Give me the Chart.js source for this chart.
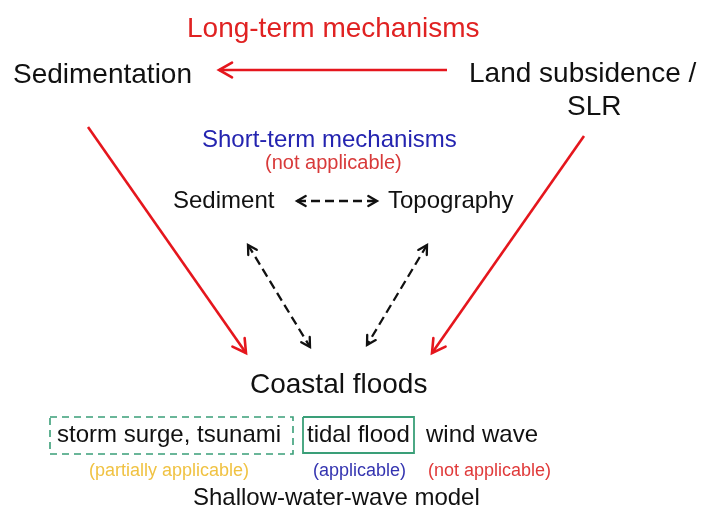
<!DOCTYPE html>
<html>
<head>
<meta charset="utf-8">
<script src="https://cdn.jsdelivr.net/npm/chart.js@4/dist/chart.umd.min.js"></script>
<style>
  html, body { margin: 0; padding: 0; background: #fff; }
  #wrap { width: 703px; height: 513px; }
</style>
</head>
<body>
<div id="wrap"><canvas id="diagram"></canvas></div>
<script>
// Diagram units: 0..703 across, 0..513 down (y axis is reversed)
const labelText = ['Long-term mechanisms', 'Sedimentation', 'Land subsidence /', 'SLR',
  'Short-term mechanisms', '(not applicable)', 'Sediment', 'Topography', 'Coastal floods',
  'storm surge, tsunami', 'tidal flood', 'wind wave',
  '(partially applicable)', '(applicable)', '(not applicable)', 'Shallow-water-wave model'];
const labelX = [187, 13, 469, 567, 202, 265, 173, 388, 250, 57, 307, 426, 89, 313, 428, 193];
const labelY = [37, 83, 82, 115, 147, 169, 208, 208, 393, 442, 442, 442, 476, 476, 476, 505];
const labelRole = ['longTitle', 'big', 'big', 'big', 'shortTitle', 'noteRed', 'mid', 'mid', 'big',
  'mid', 'mid', 'mid', 'noteYellow', 'noteBlue', 'noteRedSmall', 'mid'];

// arrows: start / end points, kind decides colour + heads
const arrowFrom = [[447, 70], [88, 127], [584, 136], [297, 201], [248, 245], [427, 245]];
const arrowTo = [[219, 70], [246, 353], [432, 353], [377, 201], [310, 347], [367, 345]];
const arrowKind = ['long', 'long', 'long', 'short', 'short', 'short'];

// boxes round the flood types: left, top, right, bottom
const boxRect = [[50, 417, 293, 454], [303, 417, 414, 453]];
const boxKind = ['dashed', 'solid'];

const RED = '#e5161d';
const GREEN = '#3a9f78';
const FONT = '"Liberation Sans", Arial, sans-serif';

const roleStyle = {
  longTitle: { size: 28, color: '#e02222' },
  big: { size: 28, color: '#111' },
  shortTitle: { size: 24, color: '#2424b0' },
  noteRed: { size: 20, color: '#d83a3a' },
  mid: { size: 24, color: '#111' },
  noteYellow: { size: 18, color: '#f0c242' },
  noteBlue: { size: 18, color: '#3434b0' },
  noteRedSmall: { size: 18, color: '#e03a3a' }
};

const kindStyle = {
  long: { color: RED, width: 2.6, dash: [], head: 15, both: false },
  short: { color: '#111', width: 2.3, dash: [9, 5], head: 10, both: true }
};

const datasets = [];
arrowFrom.forEach((p, i) => {
  const st = kindStyle[arrowKind[i]];
  datasets.push({
    label: 'arrow' + i,
    data: [{ x: p[0], y: p[1] }, { x: arrowTo[i][0], y: arrowTo[i][1] }],
    showLine: true, pointRadius: 0, fill: false, clip: false,
    borderColor: st.color, borderWidth: st.width, borderDash: st.dash
  });
});
boxRect.forEach((r, i) => {
  datasets.push({
    label: 'box' + i,
    data: [{ x: r[0], y: r[1] }, { x: r[2], y: r[1] }, { x: r[2], y: r[3] }, { x: r[0], y: r[3] }, { x: r[0], y: r[1] }],
    showLine: true, pointRadius: 0, fill: false, clip: false,
    borderColor: GREEN, borderWidth: boxKind[i] === 'dashed' ? 1.6 : 1.8,
    borderDash: boxKind[i] === 'dashed' ? [7, 5] : []
  });
});

function drawHead(ctx, tx, ty, fx, fy, len, color, width) {
  const a = Math.atan2(ty - fy, tx - fx);
  const spread = 0.52;
  ctx.save();
  ctx.strokeStyle = color;
  ctx.lineWidth = width;
  ctx.setLineDash([]);
  ctx.lineCap = 'round';
  ctx.lineJoin = 'miter';
  ctx.beginPath();
  ctx.moveTo(tx - len * Math.cos(a - spread), ty - len * Math.sin(a - spread));
  ctx.lineTo(tx, ty);
  ctx.lineTo(tx - len * Math.cos(a + spread), ty - len * Math.sin(a + spread));
  ctx.stroke();
  ctx.restore();
}

const diagramPlugin = {
  id: 'diagram',
  afterDatasetsDraw(chart) {
    const { ctx } = chart;
    const xs = chart.scales.x, ys = chart.scales.y;
    // arrow heads
    arrowFrom.forEach((p, i) => {
      const st = kindStyle[arrowKind[i]];
      const fx = xs.getPixelForValue(p[0]), fy = ys.getPixelForValue(p[1]);
      const tx = xs.getPixelForValue(arrowTo[i][0]), ty = ys.getPixelForValue(arrowTo[i][1]);
      drawHead(ctx, tx, ty, fx, fy, st.head, st.color, st.width);
      if (st.both) drawHead(ctx, fx, fy, tx, ty, st.head, st.color, st.width);
    });
    // labels
    ctx.save();
    ctx.textAlign = 'left';
    ctx.textBaseline = 'alphabetic';
    labelText.forEach((t, i) => {
      const st = roleStyle[labelRole[i]];
      ctx.font = st.size + 'px ' + FONT;
      ctx.fillStyle = st.color;
      ctx.fillText(t, xs.getPixelForValue(labelX[i]), ys.getPixelForValue(labelY[i]));
    });
    ctx.restore();
  }
};

new Chart(document.getElementById('diagram').getContext('2d'), {
  type: 'scatter',
  data: { datasets },
  options: {
    responsive: true,
    maintainAspectRatio: false,
    animation: false,
    events: [],
    layout: { padding: 0 },
    scales: {
      x: { type: 'linear', min: 0, max: 703, display: false },
      y: { type: 'linear', min: 0, max: 513, reverse: true, display: false }
    },
    plugins: { legend: { display: false }, tooltip: { enabled: false } }
  },
  plugins: [diagramPlugin]
});
</script>
</body>
</html>
